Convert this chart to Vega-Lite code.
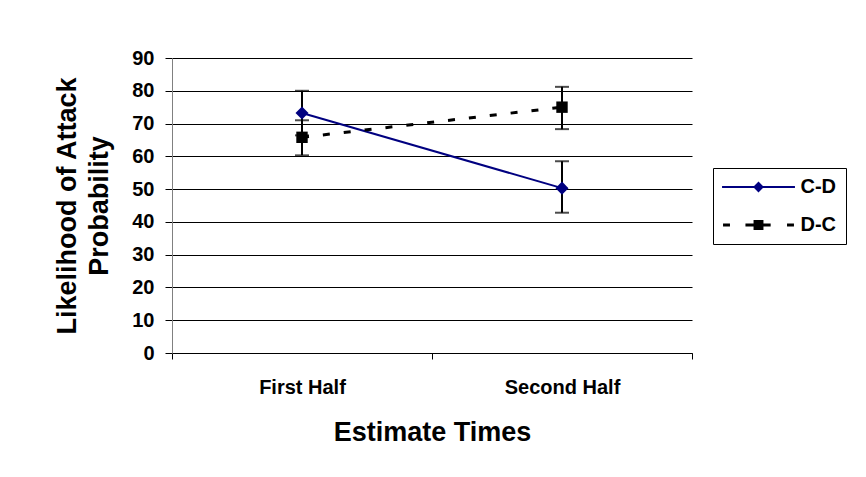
{
  "$schema": "https://vega.github.io/schema/vega-lite/v6.json",
  "width": 520,
  "height": 295,
  "autosize": {"type": "none"},
  "padding": {"left": 172, "top": 58, "right": 174, "bottom": 124},
  "background": "white",
  "config": {
    "view": {"stroke": null},
    "font": "Liberation Sans",
    "axis": {
      "labelFont": "Liberation Sans",
      "labelFontSize": 20,
      "labelFontWeight": "bold",
      "labelColor": "black",
      "titleFont": "Liberation Sans",
      "titleFontSize": 27,
      "titleFontWeight": "bold",
      "titleColor": "black"
    },
    "axisY": {
      "grid": true,
      "gridColor": "black",
      "gridWidth": 1,
      "gridOpacity": 1,
      "domainColor": "#808080",
      "domainWidth": 1,
      "tickColor": "black",
      "tickSize": 7,
      "tickWidth": 1,
      "labelPadding": 11,
      "titleLineHeight": 32,
      "titlePadding": 18
    }
  },
  "data": {
    "values": [
      {"series": "C-D", "time": "First Half", "mean": 73.2, "lo": 66.4, "hi": 80.0},
      {"series": "C-D", "time": "Second Half", "mean": 50.3, "lo": 42.8, "hi": 58.5},
      {"series": "D-C", "time": "First Half", "mean": 65.8, "lo": 60.3, "hi": 71.0},
      {"series": "D-C", "time": "Second Half", "mean": 75.0, "lo": 68.3, "hi": 81.2}
    ]
  },
  "encoding": {
    "x": {
      "field": "time",
      "type": "nominal",
      "sort": ["First Half", "Second Half"],
      "scale": {"paddingInner": 0, "paddingOuter": 0},
      "title": "Estimate Times",
      "axis": {
        "labelAngle": 0,
        "tickBand": "extent",
        "grid": false,
        "domainColor": "black",
        "domainWidth": 1,
        "tickColor": "black",
        "tickSize": 6,
        "tickWidth": 1,
        "labelPadding": 18,
        "titlePadding": 22
      }
    }
  },
  "layer": [
    {
      "mark": {"type": "rule", "color": "black", "strokeWidth": 2},
      "encoding": {
        "y": {
          "field": "lo",
          "type": "quantitative",
          "scale": {"domain": [0, 90], "nice": false},
          "title": ["Likelihood of Attack", "Probability"],
          "axis": {"values": [0, 10, 20, 30, 40, 50, 60, 70, 80, 90], "tickCount": 10}
        },
        "y2": {"field": "hi"}
      }
    },
    {
      "mark": {"type": "tick", "color": "black", "orient": "horizontal", "size": 14, "thickness": 2},
      "encoding": {
        "y": {"field": "lo", "type": "quantitative", "title": ["Likelihood of Attack", "Probability"], "axis": {"values": [0, 10, 20, 30, 40, 50, 60, 70, 80, 90], "tickCount": 10}}
      }
    },
    {
      "mark": {"type": "tick", "color": "black", "orient": "horizontal", "size": 14, "thickness": 2},
      "encoding": {
        "y": {"field": "hi", "type": "quantitative", "title": ["Likelihood of Attack", "Probability"], "axis": {"values": [0, 10, 20, 30, 40, 50, 60, 70, 80, 90], "tickCount": 10}}
      }
    },
    {
      "transform": [{"filter": "datum.series === 'C-D'"}],
      "mark": {"type": "line", "color": "#000080", "strokeWidth": 2},
      "encoding": {
        "y": {"field": "mean", "type": "quantitative", "title": ["Likelihood of Attack", "Probability"], "axis": {"values": [0, 10, 20, 30, 40, 50, 60, 70, 80, 90], "tickCount": 10}}
      }
    },
    {
      "transform": [{"filter": "datum.series === 'D-C'"}],
      "mark": {"type": "line", "color": "black", "strokeWidth": 3, "strokeDash": [7, 14]},
      "encoding": {
        "y": {"field": "mean", "type": "quantitative", "title": ["Likelihood of Attack", "Probability"], "axis": {"values": [0, 10, 20, 30, 40, 50, 60, 70, 80, 90], "tickCount": 10}}
      }
    },
    {
      "transform": [{"filter": "datum.series === 'C-D'"}],
      "mark": {"type": "point", "shape": "diamond", "filled": true, "opacity": 1, "size": 170, "strokeWidth": 0, "color": "#000080"},
      "encoding": {
        "y": {"field": "mean", "type": "quantitative", "title": ["Likelihood of Attack", "Probability"], "axis": {"values": [0, 10, 20, 30, 40, 50, 60, 70, 80, 90], "tickCount": 10}}
      }
    },
    {
      "transform": [{"filter": "datum.series === 'D-C'"}],
      "mark": {"type": "point", "shape": "square", "filled": true, "opacity": 1, "size": 130, "strokeWidth": 0, "color": "black"},
      "encoding": {
        "y": {"field": "mean", "type": "quantitative", "title": ["Likelihood of Attack", "Probability"], "axis": {"values": [0, 10, 20, 30, 40, 50, 60, 70, 80, 90], "tickCount": 10}}
      }
    },
    {
      "mark": {"type": "point", "filled": true, "opacity": 1, "size": 0, "strokeWidth": 0},
      "encoding": {
        "y": {"field": "mean", "type": "quantitative", "title": ["Likelihood of Attack", "Probability"], "axis": {"values": [0, 10, 20, 30, 40, 50, 60, 70, 80, 90], "tickCount": 10}},
        "color": {
          "field": "series",
          "type": "nominal",
          "scale": {"domain": ["C-D", "D-C"], "range": ["#000080", "#000000"]},
          "legend": {
            "orient": "none",
            "legendX": 541,
            "legendY": 110,
            "title": null,
            "strokeColor": "black",
            "fillColor": "white",
            "padding": 9,
            "rowPadding": 18,
            "symbolSize": 324,
            "symbolStrokeWidth": 0,
            "symbolOpacity": 1,
            "symbolOffset": 26.5,
            "labelOffset": 32,
            "labelFont": "Liberation Sans",
            "labelFontSize": 20,
            "labelFontWeight": "bold",
            "labelColor": "black",
            "encode": {
              "symbols": {
                "update": {
                  "size": {"value": 324},
                  "opacity": {"value": 1},
                  "fillOpacity": {"value": 1}
                }
              }
            }
          }
        },
        "shape": {
          "field": "series",
          "type": "nominal",
          "scale": {
            "domain": ["C-D", "D-C"],
            "range": [
              "M-4.05,-0.11H4.05V0.11H-4.05ZM0,-0.6L0.6,0L0,0.6L-0.6,0Z",
              "M-3.94,-0.17H-3.17V0.17H-3.94ZM-1.45,-0.17H1.35V0.17H-1.45ZM3.17,-0.17H3.94V0.17H3.17ZM-0.55,-0.55H0.55V0.55H-0.55Z"
            ]
          }
        }
      }
    }
  ]
}
